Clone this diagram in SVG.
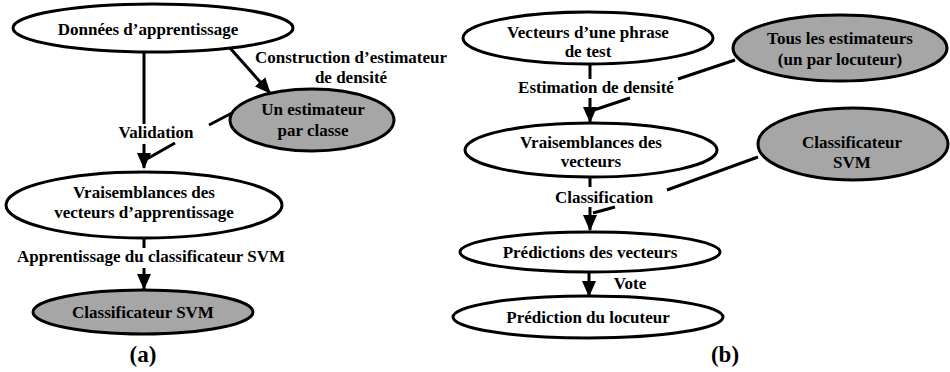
<svg xmlns="http://www.w3.org/2000/svg" width="950" height="372" viewBox="0 0 950 372">
<defs>
<style>
.n{fill:#fff;stroke:#000;stroke-width:3}
.g{fill:#a6a6a6;stroke:#000;stroke-width:3}
text{font-family:'Liberation Serif','Times New Roman',Times,serif;font-weight:bold;fill:#000;text-anchor:middle}
.t{font-size:17px}
.c{fill:none;stroke:#000;stroke-width:3}
.a{marker-end:url(#ah)}
.cap{font-size:23px}
</style>
<marker id="ah" viewBox="0 0 16 14" refX="15" refY="7" markerWidth="16" markerHeight="14" markerUnits="userSpaceOnUse" orient="auto">
<path d="M0,0 L16,7 L0,14 z" fill="#000"/>
</marker>
</defs>
<rect width="950" height="372" fill="#fff"/>

<g id="connectors">
<line class="c" x1="144" y1="52" x2="144" y2="124"/>
<line class="c a" x1="144" y1="144" x2="144" y2="168"/>
<line class="c" x1="232" y1="113" x2="209" y2="125"/>
<line class="c" x1="175" y1="143" x2="145" y2="160"/>
<line class="c a" x1="230" y1="48" x2="270" y2="93"/>
<line class="c" x1="144" y1="238" x2="144" y2="248"/>
<line class="c a" x1="144" y1="268" x2="144" y2="289"/>
<line class="c" x1="590" y1="63" x2="590" y2="79"/>
<line class="c a" x1="590" y1="98" x2="590" y2="122"/>
<line class="c" x1="735" y1="60" x2="678" y2="79"/>
<line class="c" x1="630" y1="98" x2="594" y2="110"/>
<line class="c" x1="590" y1="177" x2="590" y2="187"/>
<line class="c a" x1="590" y1="207" x2="590" y2="230"/>
<line class="c" x1="758" y1="157" x2="667" y2="190"/>
<line class="c" x1="615" y1="207" x2="593" y2="213"/>
<line class="c a" x1="589" y1="272" x2="589" y2="296"/>
<text class="t" font-family="Liberation Serif, serif" x="156" y="138">Validation</text>
<text class="t" font-family="Liberation Serif, serif" x="351" y="63">Construction d’estimateur</text>
<text class="t" font-family="Liberation Serif, serif" x="351" y="83">de densité</text>
<text class="t" font-family="Liberation Serif, serif" x="151" y="262">Apprentissage du classificateur SVM</text>
<text class="t" font-family="Liberation Serif, serif" x="596" y="93">Estimation de densité</text>
<text class="t" font-family="Liberation Serif, serif" x="604" y="203">Classification</text>
<text class="t" font-family="Liberation Serif, serif" x="630" y="289">Vote</text>
</g>

<g id="donnees">
<ellipse class="n" cx="153" cy="28" rx="140" ry="24"/>
<text class="t" x="148" y="35">Données d’apprentissage</text>
</g>
<g id="estimateur">
<ellipse class="g" cx="312" cy="120" rx="82" ry="31"/>
<text class="t" x="313" y="115">Un estimateur</text>
<text class="t" x="313" y="136">par classe</text>
</g>
<g id="vraisemblances-a">
<ellipse class="n" cx="144" cy="205" rx="138" ry="33"/>
<text class="t" x="144" y="198">Vraisemblances des</text>
<text class="t" x="144" y="218">vecteurs d’apprentissage</text>
</g>
<g id="svm-a">
<ellipse class="g" cx="143" cy="312" rx="110" ry="22"/>
<text class="t" x="143" y="318">Classificateur SVM</text>
</g>

<g id="vecteurs-test">
<ellipse class="n" cx="588" cy="38" rx="125" ry="26"/>
<text class="t" x="588" y="38">Vecteurs d’une phrase</text>
<text class="t" x="588" y="57">de test</text>
</g>
<g id="tous-estimateurs">
<ellipse class="g" cx="840" cy="48" rx="107" ry="33"/>
<text class="t" x="840" y="44">Tous les estimateurs</text>
<text class="t" x="840" y="65">(un par locuteur)</text>
</g>
<g id="vraisemblances-b">
<ellipse class="n" cx="591" cy="150" rx="126" ry="27"/>
<text class="t" x="591" y="148">Vraisemblances des</text>
<text class="t" x="591" y="167">vecteurs</text>
</g>
<g id="svm-b">
<ellipse class="g" cx="853" cy="144" rx="95" ry="36"/>
<text class="t" x="852" y="148">Classificateur</text>
<text class="t" x="852" y="168">SVM</text>
</g>
<g id="predictions">
<ellipse class="n" cx="590" cy="252" rx="130" ry="20"/>
<text class="t" x="590" y="258">Prédictions des vecteurs</text>
</g>
<g id="prediction-locuteur">
<ellipse class="n" cx="588" cy="317" rx="135" ry="21"/>
<text class="t" x="588" y="323">Prédiction du locuteur</text>
</g>

<text class="cap" x="143" y="362">(a)</text>
<text class="cap" x="725" y="362">(b)</text>
</svg>
